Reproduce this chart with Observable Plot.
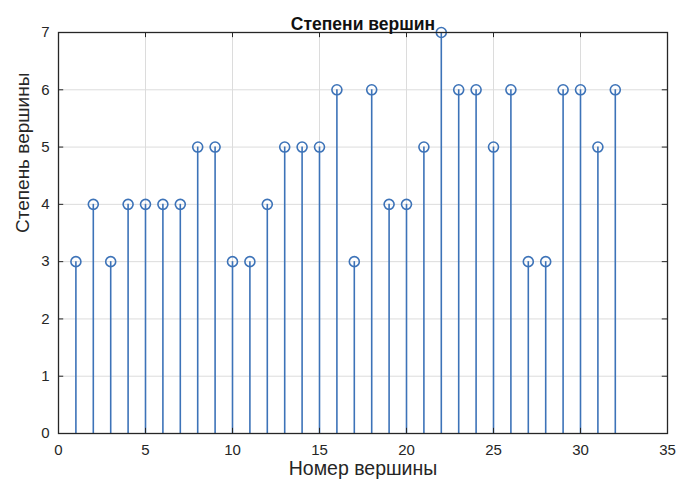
<!DOCTYPE html>
<html><head><meta charset="utf-8">
<script src="https://cdn.jsdelivr.net/npm/d3@7"></script>
<script src="https://cdn.jsdelivr.net/npm/@observablehq/plot@0.6"></script>
<style>body{margin:0;background:#fff;} svg{font-family:"Liberation Sans",Arial,sans-serif;}</style>
</head><body><div id="chart"></div>
<script>
const nodes = d3.range(1, 33);
const degrees = [3,4,3,4,4,4,4,5,5,3,3,4,5,5,5,6,3,6,4,4,5,7,6,6,5,6,3,3,6,6,5,6];
const xTicks = [0,5,10,15,20,25,30,35];
const yTicks = [0,1,2,3,4,5,6,7];
const title = "Степени вершин";
const xLabel = "Номер вершины";
const yLabel = "Степень вершины";

const data = nodes.map((n, i) => ({n, d: degrees[i]}));
const stemColor = "#3d73b8";
const ink = "#262626";

const chart = Plot.plot({
  width: 689, height: 486,
  marginLeft: 58, marginRight: 22, marginTop: 32, marginBottom: 53,
  style: {fontFamily: "Liberation Sans, Arial, sans-serif", background: "white"},
  x: {domain: [0, 35]},
  y: {domain: [0, 7]},
  marks: [
    Plot.ruleX(xTicks, {x: d => d, stroke: "#dcdcdc", strokeWidth: 1}),
    Plot.ruleY(yTicks, {y: d => d, stroke: "#dcdcdc", strokeWidth: 1}),
    Plot.ruleX(data, {x: "n", y1: 0, y2: "d", stroke: stemColor, strokeWidth: 1.6}),
    Plot.dot(data, {x: "n", y: "d", r: 5, stroke: stemColor, strokeWidth: 1.6, fill: "none"}),
    Plot.frame({stroke: ink, strokeWidth: 1.3}),
    Plot.ruleX(xTicks, {x: d => d, y1: 0, y2: 0.09, stroke: ink}),
    Plot.ruleX(xTicks, {x: d => d, y1: 7, y2: 6.91, stroke: ink}),
    Plot.ruleY(yTicks, {y: d => d, x1: 0, x2: 0.3, stroke: ink}),
    Plot.ruleY(yTicks, {y: d => d, x1: 35, x2: 34.7, stroke: ink}),
    Plot.axisX(xTicks, {tickSize: 0, tickPadding: 11, fontSize: 15, color: ink, label: null, tickFormat: d3.format("d")}),
    Plot.axisY(yTicks, {tickSize: 0, tickPadding: 9, fontSize: 15, color: ink, label: null, tickFormat: d3.format("d")}),
    Plot.text([title], {frameAnchor: "top", dy: -15, fontSize: 17.5, fontWeight: "bold", fill: "#111"}),
    Plot.text([xLabel], {frameAnchor: "bottom", dy: 41, fontSize: 19.5, fill: ink}),
    Plot.text([yLabel], {frameAnchor: "left", dx: -36, rotate: -90, fontSize: 19, fill: ink})
  ]
});
document.getElementById("chart").appendChild(chart);
</script></body></html>
